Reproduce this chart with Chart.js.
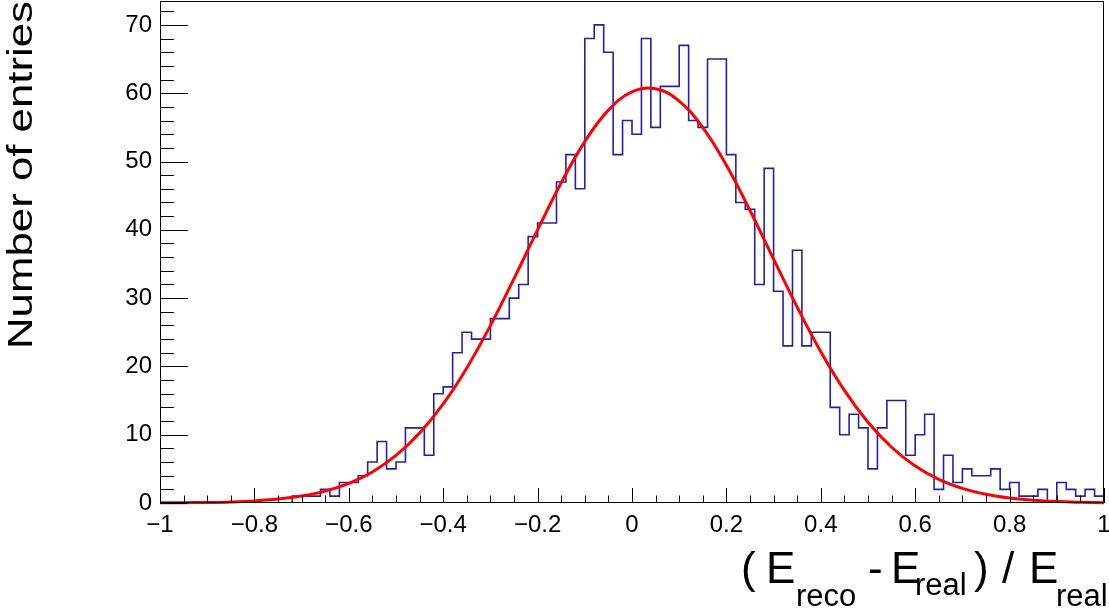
<!DOCTYPE html>
<html>
<head>
<meta charset="utf-8">
<script src="https://cdn.jsdelivr.net/npm/chart.js@4.4.0/dist/chart.umd.min.js"></script>
<style>
  html, body { margin: 0; padding: 0; background: #fff; }
</style>
</head>
<body>
<canvas id="c" width="1109" height="609"></canvas>
<script>
// histogram: 100 bins from -1 to 1
const xMin = -1, xMax = 1, nBins = 100;
const counts = [
  0, 0, 0, 0, 0, 0, 0, 0, 0, 0,
  0, 0, 0, 0, 1, 1, 1, 2, 1, 3,
  3, 4, 6, 9, 5, 6, 11, 11, 7, 16,
  17, 22, 25, 24, 24, 27, 27, 30, 32, 39,
  41, 41, 47, 51, 46, 68, 70, 66, 51, 56,
  54, 68, 55, 61, 61, 67, 56, 55, 65, 65,
  51, 44, 43, 32, 49, 31, 23, 37, 23, 25,
  25, 14, 10, 13, 11, 5, 11, 15, 15, 7,
  10, 13, 2, 7, 3, 5, 4, 4, 5, 2,
  3, 1, 1, 2, 0, 3, 2, 1, 2, 1
];

// gaussian fit
const fitX = [-1, -0.95, -0.9, -0.85, -0.8, -0.75, -0.7, -0.65, -0.6, -0.55,
  -0.5, -0.45, -0.4, -0.35, -0.3, -0.25, -0.2, -0.15, -0.1, -0.05,
  0, 0.05, 0.1, 0.15, 0.2, 0.25, 0.3, 0.35, 0.4, 0.45,
  0.5, 0.55, 0.6, 0.65, 0.7, 0.75, 0.8, 0.85, 0.9, 0.95, 1];
const fitY = [0.02, 0.04, 0.08, 0.16, 0.31, 0.57, 1.02, 1.74, 2.87, 4.55,
  6.96, 10.24, 14.51, 19.78, 25.98, 32.85, 39.99, 46.88, 52.92, 57.52,
  60.19, 60.65, 58.84, 54.96, 49.44, 42.82, 35.70, 28.67, 22.16, 16.49,
  11.82, 8.16, 5.42, 3.47, 2.14, 1.27, 0.72, 0.40, 0.21, 0.11, 0.05];

const xTicks = [-1, -0.8, -0.6, -0.4, -0.2, 0, 0.2, 0.4, 0.6, 0.8, 1];
const yTicks = [0, 10, 20, 30, 40, 50, 60, 70];
const xMinorStep = 0.05, yMinorStep = 2;
const yMax = 73.5;

const binW = (xMax - xMin) / nBins;
const histPts = counts.map((v, i) => ({ x: xMin + i * binW, y: v }));
histPts.push({ x: xMax, y: counts[nBins - 1] });
const fitPts = fitX.map((x, i) => ({ x: x, y: fitY[i] }));

const FONT = '"Liberation Sans", Arial, Helvetica, sans-serif';

function fmt(v) {
  const s = String(+v.toFixed(1));
  return s.replace('-', '\u2212');
}

const rootFrame = {
  id: 'rootFrame',
  afterDraw(chart) {
    const ctx = chart.ctx;
    const a = chart.chartArea;
    const xs = chart.scales.x, ys = chart.scales.y;
    ctx.save();
    ctx.strokeStyle = '#000';
    ctx.lineWidth = 1;
    ctx.strokeRect(Math.round(a.left) + 0.5, Math.round(a.top) + 0.5,
      Math.round(a.right - a.left) - 1, Math.round(a.bottom - a.top) - 1);

    ctx.beginPath();
    // y ticks (inside the frame)
    for (let v = 0; v <= yMax + 1e-9; v += yMinorStep) {
      const y = Math.round(ys.getPixelForValue(v)) + 0.5;
      const len = yTicks.includes(v) ? 28 : 14;
      ctx.moveTo(a.left, y); ctx.lineTo(a.left + len, y);
    }
    // x ticks
    for (let k = 0; k <= Math.round((xMax - xMin) / xMinorStep); k++) {
      const v = xMin + k * xMinorStep;
      const x = Math.round(xs.getPixelForValue(v)) + 0.5;
      const major = Math.abs(v * 5 - Math.round(v * 5)) < 1e-6;
      const len = major ? 15 : 7.5;
      ctx.moveTo(x, a.bottom); ctx.lineTo(x, a.bottom - len);
    }
    ctx.stroke();

    ctx.fillStyle = '#000';
    ctx.font = '24px ' + FONT;
    ctx.textAlign = 'right';
    ctx.textBaseline = 'middle';
    yTicks.forEach(v => ctx.fillText(String(v), a.left - 8, ys.getPixelForValue(v)));
    ctx.textAlign = 'center';
    ctx.textBaseline = 'alphabetic';
    xTicks.forEach(v => ctx.fillText(fmt(v), xs.getPixelForValue(v), 532));

    // y title
    ctx.save();
    ctx.translate(32, 1);
    ctx.rotate(-Math.PI / 2);
    ctx.font = '35px ' + FONT;
    const w = ctx.measureText('Number of entries').width;
    ctx.scale(348 / w, 1);
    ctx.textAlign = 'right';
    ctx.fillText('Number of entries', 0, 0);
    ctx.restore();

    // x title with subscripts
    ctx.textAlign = 'left';
    const big = '44px ' + FONT, small = '31px ' + FONT;
    const parts = [
      ['(', big, 741, 583],
      ['E', big, 766, 583],
      ['reco', small, 796, 606],
      ['-', big, 868, 583],
      ['E', big, 891, 583],
      ['real', small, 915, 595],
      [')', big, 974, 583],
      ['/', big, 1002, 583],
      ['E', big, 1029, 583],
      ['real', small, 1056, 606]
    ];
    parts.forEach(p => { ctx.font = p[1]; ctx.fillText(p[0], p[2], p[3]); });
    ctx.restore();
  }
};

new Chart(document.getElementById('c'), {
  type: 'line',
  data: {
    datasets: [
      {
        label: 'fit',
        data: fitPts,
        borderColor: '#ff0000',
        borderWidth: 3,
        pointRadius: 0,
        tension: 0.4,
        fill: false,
        clip: false
      },
      {
        label: 'entries',
        data: histPts,
        borderColor: '#2222a6',
        borderWidth: 1.6,
        pointRadius: 0,
        stepped: 'before',
        fill: false
      }
    ]
  },
  options: {
    responsive: false,
    devicePixelRatio: 1,
    animation: false,
    layout: { padding: { left: 160, right: 5, top: 1, bottom: 106 } },
    plugins: { legend: { display: false }, tooltip: { enabled: false } },
    scales: {
      x: { type: 'linear', min: xMin, max: xMax, display: false },
      y: { type: 'linear', min: 0, max: yMax, display: false }
    }
  },
  plugins: [rootFrame]
});
</script>
</body>
</html>
